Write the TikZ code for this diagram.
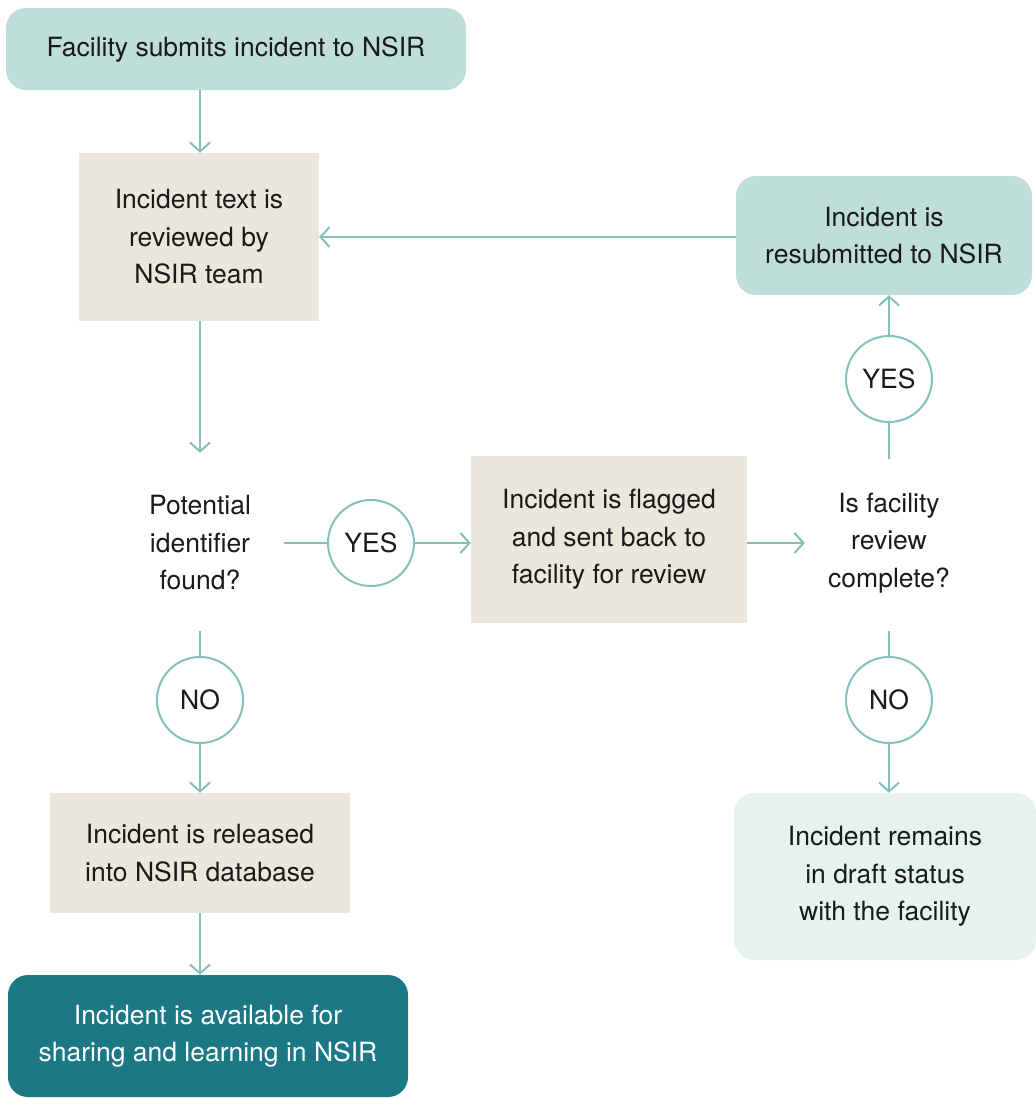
\documentclass[tikz,border=0pt]{standalone}
\usepackage{fontspec}
\setmainfont{TeX Gyre Heros}
\usetikzlibrary{arrows.meta}
\definecolor{tealL}{HTML}{BFDDD9}
\definecolor{beige}{HTML}{ECE7DD}
\definecolor{tealD}{HTML}{1B7884}
\definecolor{tealVL}{HTML}{E5F2F0}
\definecolor{lineC}{HTML}{85C1B9}
\definecolor{txt}{HTML}{1A1A1A}
\tikzset{
  base/.style={inner sep=0pt, align=center, text=txt, font=\fontsize{26.5}{37.5}\selectfont},
  roundbox/.style={base, rounded corners=20pt},
  sqbox/.style={base, fill=beige},
  decision/.style={base, minimum width=168pt, minimum height=168pt},
  answer/.style={base, circle, draw=lineC, line width=2pt, minimum size=86pt},
  conn/.style={draw=lineC, line width=2pt},
  arr/.style={conn, -{Straight Barb[length=9pt,width=20pt,line width=2pt]}},
}
\begin{document}
\begin{tikzpicture}[x=1pt,y=-1pt]
\useasboundingbox (0,0) rectangle (1036,1098);
\node[roundbox, fill=tealL, minimum width=460pt, minimum height=82pt] (start) at (236,49) {Facility submits incident to NSIR};
\node[sqbox, minimum width=240pt, minimum height=168pt] (review) at (199,237) {Incident text is\\reviewed by\\NSIR team};
\node[roundbox, fill=tealL, minimum width=296pt, minimum height=119pt] (resub) at (884,235.5) {Incident is\\resubmitted to NSIR};
\node[decision] (dec1) at (200,543) {Potential\\identifier\\found?};
\node[answer] (yes1) at (371,543) {YES};
\node[sqbox, minimum width=276pt, minimum height=167pt] (flag) at (609,539.5) {Incident is flagged\\and sent back to\\facility for review};
\node[decision] (dec2) at (889,543) {Is facility\\review\\complete?};
\node[answer] (yes2) at (889,379) {YES};
\node[answer] (no1) at (200,700) {NO};
\node[answer] (no2) at (889,700) {NO};
\node[sqbox, minimum width=300pt, minimum height=120pt] (rel) at (200,853) {Incident is released\\into NSIR database};
\node[roundbox, fill=tealD, text=white, minimum width=400pt, minimum height=122pt] (avail) at (208,1036) {Incident is available for\\sharing and learning in NSIR};
\node[roundbox, fill=tealVL, minimum width=302pt, minimum height=167pt] (draft) at (885,876.5) {Incident remains\\in draft status\\with the facility};

\draw[arr] (dec1.north |- start.south) -- (dec1.north |- review.north);
\draw[arr] (resub.west |- review.east) -- (review.east);
\draw[arr] (dec1.north |- review.south) -- ([yshift=6pt]dec1.north);
\draw[conn] (dec1.east) -- (yes1.west);
\draw[arr] (yes1.east) -- (yes1.east -| flag.west);
\draw[arr] (flag.east |- dec2.west) -- (dec2.west);
\draw[conn] (dec2.north) -- (yes2.south);
\draw[arr] (yes2.north) -- (resub.south -| yes2.north);
\draw[conn] ([yshift=-4pt]dec1.south) -- (no1.north);
\draw[arr] (no1.south) -- (no1.south |- rel.north);
\draw[arr] (no1.south |- rel.south) -- (no1.south |- avail.north);
\draw[conn] ([yshift=-4pt]dec2.south) -- (no2.north);
\draw[arr] (no2.south) -- (no2.south |- draft.north);
\end{tikzpicture}
\end{document}
